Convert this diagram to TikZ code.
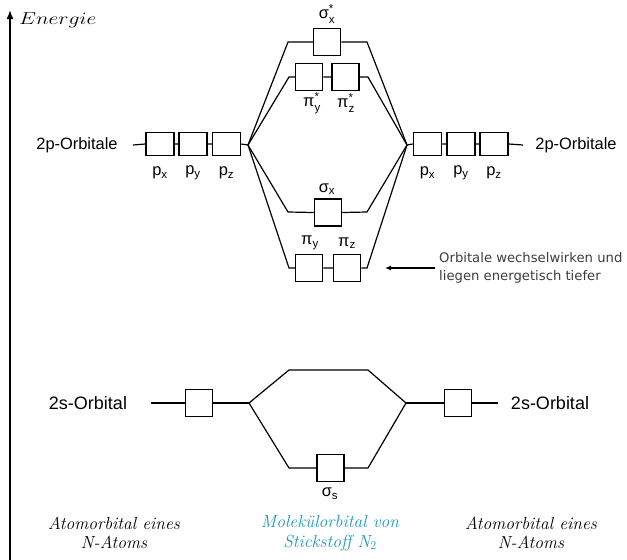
\documentclass[tikz,border=0pt]{standalone}
\usepackage{amsmath}
\usepackage{fontspec}
\newfontfamily\arialf{Liberation Sans}
\newfontfamily\djv{DejaVu Sans}
\usetikzlibrary{arrows.meta}
\definecolor{teal2}{RGB}{28,152,190}
\definecolor{anno}{RGB}{60,60,60}
\tikzset{
  obox/.style={draw, line width=1.5pt, minimum width=27pt, minimum height=27pt, inner sep=0pt},
  pbox/.style={draw, line width=1.5pt, minimum width=28pt, minimum height=23pt, inner sep=0pt},
  conn/.style={line width=1.2pt},
  slabel/.style={font=\arialf\fontsize{16.4}{19}\selectfont, inner sep=0pt},
  slabelb/.style={font=\arialf\fontsize{18}{21}\selectfont, inner sep=0pt},
  itlabel/.style={font=\fontsize{17.5}{19.5}\selectfont\itshape, align=center, inner sep=0pt},
}
\begin{document}
\begin{tikzpicture}[x=1pt,y=-1pt]
\useasboundingbox (0,0) rectangle (627,560);
% energy axis
\coordinate (ebot) at (10,560);
\coordinate (etop) at (10,10);
\draw[line width=1.6pt, -{Latex[length=9pt,width=7pt]}] (ebot) -- (etop);
\node[anchor=west, inner sep=0pt, font=\fontsize{18}{20}\selectfont] (en) at (19,20) {\scalebox{1.25}[1]{$Energie$}};

% left 2p
\node[slabel] (l2p) at (77,145) {2p-Orbitale};
\coordinate (L0) at (133,145);
\node[pbox] (pxL) at (160,144) {};
\node[pbox] (pyL) at (193,144) {};
\node[pbox] (pzL) at (226.5,144) {};
\coordinate (JL) at (248,145);
\draw[conn] (L0) -- (pxL.west) (pxL.east) -- (pyL.west) (pyL.east) -- (pzL.west) (pzL.east) -- (JL);
\node[slabel] (lpx) at (160,173) {p$_{\text{x}}$};
\node[slabel] (lpy) at (193,173) {p$_{\text{y}}$};
\node[slabel] (lpz) at (226.5,173) {p$_{\text{z}}$};

% right 2p
\coordinate (JR) at (407,145);
\node[pbox] (pxR) at (427.5,144) {};
\node[pbox] (pyR) at (461,144) {};
\node[pbox] (pzR) at (494,144) {};
\coordinate (R0) at (523,145);
\node[slabel] (r2p) at (576,145) {2p-Orbitale};
\draw[conn] (JR) -- (pxR.west) (pxR.east) -- (pyR.west) (pyR.east) -- (pzR.west) (pzR.east) -- (R0);
\node[slabel] (rpx) at (427.5,173) {p$_{\text{x}}$};
\node[slabel] (rpy) at (461,173) {p$_{\text{y}}$};
\node[slabel] (rpz) at (494,173) {p$_{\text{z}}$};

% sigma_x*
\node[obox] (sxs) at (327,42) {};
\coordinate (a1) at (288,42); \coordinate (a2) at (367,42);
\draw[conn] (JL) -- (a1) -- (sxs.west) (sxs.east) -- (a2) -- (JR);
\node[slabel] (lsxs) at (327,14) {σ$^{\text{*}}_{\text{x}}$};

% pi*
\node[obox] (pys) at (309,77) {};
\node[obox] (pzs) at (345.5,77) {};
\coordinate (b1) at (289,77); \coordinate (b2) at (368,77);
\draw[conn] (JL) -- (b1) -- (pys.west) (pys.east) -- (pzs.west) (pzs.east) -- (b2) -- (JR);
\node[slabel] (lpys) at (312,103) {π$^{\text{*}}_{\text{y}}$};
\node[slabel] (lpzs) at (346,103) {π$^{\text{*}}_{\text{z}}$};

% sigma_x
\node[obox] (sx) at (328,212.5) {};
\coordinate (c1) at (288,212); \coordinate (c2) at (367,212);
\draw[conn] (JL) -- (c1) -- (sx.west) (sx.east) -- (c2) -- (JR);
\node[slabel] (lsx) at (327,189) {σ$_{\text{x}}$};

% pi
\node[obox] (py) at (309,268) {};
\node[obox] (pz) at (347,268) {};
\coordinate (d1) at (289,268); \coordinate (d2) at (367,268);
\draw[conn] (JL) -- (d1) -- (py.west) (py.east) -- (pz.west) (pz.east) -- (d2) -- (JR);
\node[slabel] (lpy2) at (310,243) {π$_{\text{y}}$};
\node[slabel] (lpz2) at (347,243) {π$_{\text{z}}$};

% annotation
\coordinate (arrs) at (435,268);
\coordinate (arre) at (385,268);
\node[anchor=west, align=left, inner sep=0pt, text=anno, font=\djv\fontsize{13.2}{18}\selectfont] (anno) at (439,268) {Orbitale wechselwirken und\\liegen energetisch tiefer};
\draw[line width=1.1pt, -{Latex[length=6pt,width=5pt]}] (arrs) -- (arre);

% 2s
\node[slabelb] (l2s) at (88,403) {2s-Orbital};
\coordinate (S0) at (151,403);
\node[obox] (sL) at (199,403) {};
\coordinate (JLs) at (249,403);
\draw[conn] (S0) -- (sL.west) (sL.east) -- (JLs);
\coordinate (JRs) at (406,403);
\node[obox] (sR) at (458,403) {};
\coordinate (S1) at (498,403);
\draw[conn] (JRs) -- (sR.west) (sR.east) -- (S1);
\node[slabelb] (r2s) at (550,403) {2s-Orbital};
\coordinate (e1) at (289,370); \coordinate (e2) at (368,370);
\draw[conn] (JLs) -- (e1) -- (e2) -- (JRs);
\node[obox] (ss) at (330.5,468) {};
\coordinate (f1) at (289,468); \coordinate (f2) at (368,468);
\draw[conn] (JLs) -- (f1) -- (ss.west) (ss.east) -- (f2) -- (JRs);
\node[slabel] (lss) at (330,494) {σ$_{\text{s}}$};

% bottom labels
\node[itlabel] (bl) at (114,533) {Atomorbital eines\\N-Atoms};
\node[itlabel, text=teal2] (bm) at (330,533) {Molekülorbital von\\Stickstoff N$_2$};
\node[itlabel] (br) at (531,533) {Atomorbital eines\\N-Atoms};
\end{tikzpicture}
\end{document}
